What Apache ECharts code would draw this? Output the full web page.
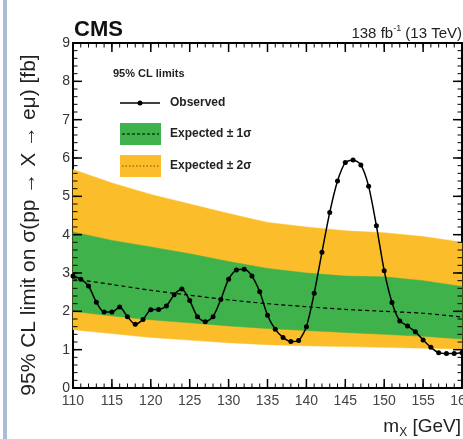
<!DOCTYPE html>
<html>
<head>
<meta charset="utf-8">
<script src="https://cdn.jsdelivr.net/npm/echarts@6/dist/echarts.min.js"></script>
<style>
  html, body { margin: 0; padding: 0; background: #fff; }
  #chart { width: 463px; height: 439px; }
</style>
</head>
<body>
<div id="chart"></div>
<script>
/* -------------------------------------------------------------------------- */
/*                                   Data                                     */
/* -------------------------------------------------------------------------- */

// expected limit bands, sampled every 5 GeV
const bandMass = [110, 115, 120, 125, 130, 135, 140, 145, 150, 155, 160];
const expUp2 = [5.7, 5.35, 5.05, 4.8, 4.55, 4.32, 4.2, 4.1, 4.05, 3.95, 3.8];
const expUp1 = [4.07, 3.85, 3.68, 3.5, 3.3, 3.12, 3.0, 2.92, 2.9, 2.8, 2.65];
const expMedian = [2.85, 2.7, 2.55, 2.42, 2.3, 2.2, 2.12, 2.05, 2.0, 1.95, 1.85];
const expDown1 = [2.0, 1.88, 1.78, 1.7, 1.62, 1.55, 1.5, 1.45, 1.4, 1.35, 1.28];
const expDown2 = [1.52, 1.42, 1.32, 1.25, 1.18, 1.13, 1.1, 1.08, 1.06, 1.04, 1.02];

// observed limit, every 1 GeV
const obsMass = [
  110, 111, 112, 113, 114, 115, 116, 117, 118, 119,
  120, 121, 122, 123, 124, 125, 126, 127, 128, 129,
  130, 131, 132, 133, 134, 135, 136, 137, 138, 139,
  140, 141, 142, 143, 144, 145, 146, 147, 148, 149,
  150, 151, 152, 153, 154, 155, 156, 157, 158, 159, 160,
];
const observed = [
  2.92, 2.84, 2.66, 2.24, 1.98, 1.98, 2.11, 1.86, 1.66, 1.79,
  2.04, 2.05, 2.14, 2.43, 2.58, 2.28, 1.86, 1.73, 1.86, 2.31,
  2.84, 3.08, 3.1, 2.92, 2.51, 1.9, 1.53, 1.32, 1.21, 1.24,
  1.6, 2.47, 3.54, 4.58, 5.4, 5.88, 5.95, 5.82, 5.26, 4.23,
  3.06, 2.23, 1.75, 1.62, 1.47, 1.25, 1.06, 0.92, 0.9, 0.9, 0.92,
];

const xRange = [110, 160];
const yRange = [0, 9];
const xStep = [5, 1]; // major, minor tick spacing
const yStep = [1, 0.2];

/* -------------------------------------------------------------------------- */
/*                                  Chart                                     */
/* -------------------------------------------------------------------------- */

const GREEN = '#3fb24b';
const ORANGE = '#fcbd2b';
const FONT = 'Liberation Sans, Arial, sans-serif';

const chart = echarts.init(document.getElementById('chart'));

const pairs = (xs, ys) => xs.map((x, i) => [x, ys[i]]);

const LINE = { show: true, onZero: false, lineStyle: { color: '#000', width: 2 } };

// plain frame side: line (+ labels), ticks are drawn by the tick series below
const frameAxis = (position, range, step, label) => ({
  type: 'value',
  position,
  min: range[0],
  max: range[1],
  interval: step,
  axisLine: LINE,
  axisTick: { show: false },
  splitLine: { show: false },
  axisLabel: label || { show: false },
});

// tick positions: [which axis (0 = x, 1 = y), value, major?]
const tickList = [];
const addTicks = (dim, range, step, major) => {
  const n = Math.round((range[1] - range[0]) / step);
  for (let i = 0; i <= n; i++) tickList.push([dim, +(range[0] + i * step).toFixed(3), major]);
};
addTicks(0, xRange, xStep[1], 0);
addTicks(0, xRange, xStep[0], 1);
addTicks(1, yRange, yStep[1], 0);
addTicks(1, yRange, yStep[0], 1);

// inward ticks on all four frame sides, placed through the axes' scales
const tickSeries = {
  name: 'ticks',
  type: 'custom',
  silent: true,
  z: 6,
  encode: { x: -1, y: -1 },
  data: tickList,
  renderItem: (params, api) => {
    const dim = api.value(0);
    const v = api.value(1);
    const major = api.value(2) === 1;
    const len = major ? 9 : 4.5;
    const style = { stroke: '#000', lineWidth: major ? 1.5 : 1 };
    let a;
    let b;
    if (dim === 0) {
      a = api.coord([v, yRange[0]]);
      b = api.coord([v, yRange[1]]);
      return {
        type: 'group',
        children: [
          { type: 'line', shape: { x1: a[0], y1: a[1], x2: a[0], y2: a[1] - len }, style },
          { type: 'line', shape: { x1: b[0], y1: b[1], x2: b[0], y2: b[1] + len }, style },
        ],
      };
    }
    a = api.coord([xRange[0], v]);
    b = api.coord([xRange[1], v]);
    return {
      type: 'group',
      children: [
        { type: 'line', shape: { x1: a[0], y1: a[1], x2: a[0] + len, y2: a[1] }, style },
        { type: 'line', shape: { x1: b[0], y1: b[1], x2: b[0] - len, y2: b[1] }, style },
      ],
    };
  },
};

// band between two curves, drawn as one polygon through the axes' scales
const bandSeries = (name, lower, upper, color) => ({
  name,
  type: 'custom',
  silent: true,
  z: 1,
  data: [0],
  renderItem: (params, api) => {
    const top = bandMass.map((m, i) => api.coord([m, upper[i]]));
    const bottom = bandMass.map((m, i) => api.coord([m, lower[i]])).reverse();
    return {
      type: 'polygon',
      shape: { points: top.concat(bottom) },
      style: { fill: color, stroke: color, lineWidth: 0.5 },
    };
  },
});

const option = {
  animation: false,
  grid: { left: 73, right: 1, top: 43, bottom: 51, outerBoundsMode: 'none' },
  xAxis: [
    frameAxis('bottom', xRange, xStep[0], { color: '#444', fontSize: 14, margin: 6, fontFamily: FONT }),
    frameAxis('top', xRange, xStep[0]),
  ],
  yAxis: [
    frameAxis('left', yRange, yStep[0], { color: '#333', fontSize: 14, margin: 3, fontFamily: FONT }),
    frameAxis('right', yRange, yStep[0]),
  ],
  series: [
    bandSeries('2sigma', expDown2, expUp2, ORANGE),
    bandSeries('1sigma', expDown1, expUp1, GREEN),
    {
      name: 'Expected',
      type: 'line',
      smooth: 0.3,
      symbol: 'none',
      lineStyle: { color: '#000', width: 1.2, type: [4, 3] },
      data: pairs(bandMass, expMedian),
      z: 3,
    },
    {
      name: 'Observed',
      type: 'line',
      smooth: 0.25,
      symbol: 'circle',
      symbolSize: 5,
      itemStyle: { color: '#000' },
      lineStyle: { color: '#000', width: 1.5 },
      data: pairs(obsMass, observed),
      z: 4,
    },
    tickSeries,
  ],
  graphic: [
    // slide border on the left
    { type: 'rect', left: 3, top: 0, shape: { width: 4, height: 439 }, style: { fill: '#a9bcd8' } },
    {
      type: 'text', x: 29, y: 225, rotation: Math.PI / 2,
      style: {
        text: '95% CL limit on σ(pp → X → eμ) [fb]',
        fontSize: 21, fontFamily: FONT, fill: '#222', align: 'center', verticalAlign: 'middle',
      },
    },
    {
      type: 'text', left: 74, top: 19,
      style: { text: 'CMS', fontSize: 22, fontWeight: 'bold', fontFamily: FONT, fill: '#111' },
    },
    {
      type: 'text', right: 1, top: 24,
      style: {
        text: '{n|138 fb}{s|-1}{n| (13 TeV)}',
        fontFamily: FONT,
        fill: '#222',
        rich: {
          n: { fontSize: 15, lineHeight: 17, fontFamily: FONT, verticalAlign: 'bottom' },
          s: { fontSize: 9, lineHeight: 17, fontFamily: FONT, verticalAlign: 'top' },
        },
      },
    },
    {
      type: 'text', right: 2, top: 417,
      style: {
        text: '{m|m}{s|X}{m| [GeV]}',
        fill: '#222',
        fontFamily: FONT,
        rich: {
          m: { fontSize: 19, lineHeight: 22, fontFamily: FONT, verticalAlign: 'top' },
          s: { fontSize: 12, lineHeight: 22, fontFamily: FONT, verticalAlign: 'bottom' },
        },
      },
    },
    // legend
    {
      type: 'text', left: 113, top: 68,
      style: { text: '95% CL limits', fontSize: 11, fontWeight: 'bold', fontFamily: FONT, fill: '#222' },
    },
    { type: 'line', shape: { x1: 120, y1: 103, x2: 160, y2: 103 }, style: { stroke: '#000', lineWidth: 1.5 } },
    { type: 'circle', shape: { cx: 140, cy: 103, r: 2.5 }, style: { fill: '#000' } },
    {
      type: 'text', left: 170, top: 97,
      style: { text: 'Observed', fontSize: 12, fontWeight: 'bold', fontFamily: FONT, fill: '#222' },
    },
    { type: 'rect', shape: { x: 120, y: 123, width: 41, height: 22 }, style: { fill: GREEN } },
    { type: 'line', shape: { x1: 122, y1: 134, x2: 159, y2: 134 }, style: { stroke: '#000', lineWidth: 1, lineDash: [3, 2] } },
    {
      type: 'text', left: 170, top: 128,
      style: { text: 'Expected ± 1σ', fontSize: 12, fontWeight: 'bold', fontFamily: FONT, fill: '#222' },
    },
    { type: 'rect', shape: { x: 120, y: 155, width: 41, height: 22 }, style: { fill: ORANGE } },
    { type: 'line', shape: { x1: 122, y1: 166, x2: 159, y2: 166 }, style: { stroke: '#6b5000', lineWidth: 1.2, lineDash: [1.5, 2] } },
    {
      type: 'text', left: 170, top: 160,
      style: { text: 'Expected ± 2σ', fontSize: 12, fontWeight: 'bold', fontFamily: FONT, fill: '#222' },
    },
  ],
};

chart.setOption(option);
</script>
</body>
</html>
